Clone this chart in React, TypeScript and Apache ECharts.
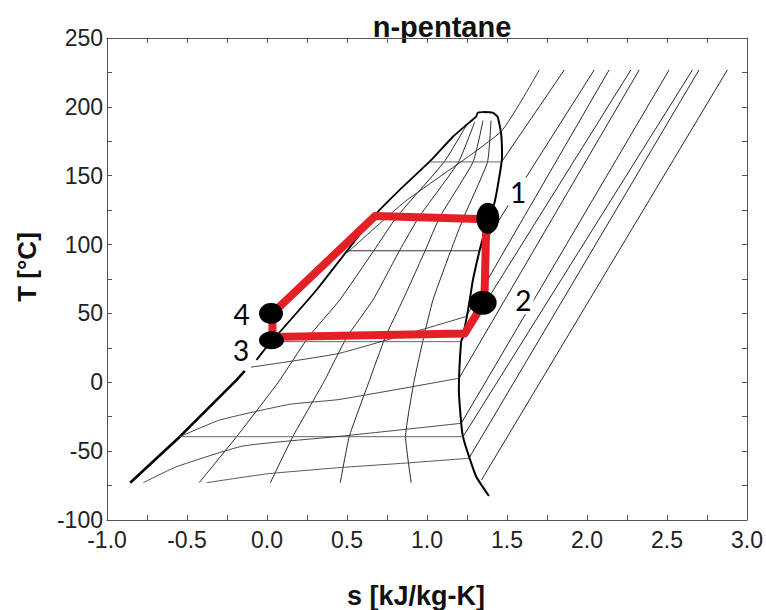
import React, { useEffect, useRef } from "react";
import * as echarts from "echarts";

// Axis ranges (entropy s in kJ/kg-K, temperature T in °C)
const S_MIN = -1;
const S_MAX = 3;
const S_STEP = 0.5;
const T_MIN = -100;
const T_MAX = 250;
const T_STEP = 50;

// Saturated liquid line (lower part drawn heavier, short break near state 3)
const liquidLower: number[][] = [
  [-0.855, -72.9], [-0.545, -39.5], [-0.191, 1.6], [-0.139, 8.2],
];
const liquidUpper: number[][] = [
  [-0.066, 16.2], [0.02, 29], [0.08, 36.5], [0.309, 67], [0.684, 122.7],
  [0.828, 139.6], [1.016, 160.2], [1.162, 178.3], [1.245, 186.8],
  [1.307, 192.9], [1.317, 195.8], [1.348, 196.2],
];
// Saturated vapour line
const vapour: number[][] = [
  [1.348, 196.2], [1.41, 195.8], [1.441, 192.9], [1.463, 180.8], [1.469, 163.8],
  [1.452, 149.3], [1.421, 130], [1.38, 119.1], [1.35, 105], [1.328, 95.5],
  [1.287, 74.3], [1.267, 59.7], [1.245, 45.2], [1.224, 33], [1.213, 29.5],
  [1.199, -5.6], [1.214, -29.8], [1.225, -39.5], [1.256, -51.6],
  [1.308, -68.6], [1.387, -82.6],
];

// Constant-quality lines inside the dome (x = 0.2, 0.4, 0.6, 0.8)
const quality02: number[][] = [
  [-0.424, -72.9], [-0.19, -39.5], [0.07, 0], [0.26, 33], [0.454, 59.7],
  [0.67, 96], [0.81, 120], [1.107, 160], [1.246, 186.5],
];
const quality04: number[][] = [
  [0.021, -72.9], [0.161, -39.5], [0.354, 0], [0.5, 33], [0.662, 59.7],
  [0.83, 96], [0.95, 120], [1.197, 160], [1.298, 189],
];
const quality06: number[][] = [
  [0.458, -72.9], [0.514, -39.5], [0.636, 0], [0.74, 33], [0.849, 59.7],
  [0.99, 96], [1.08, 120], [1.288, 160], [1.35, 190],
];
const quality08: number[][] = [
  [0.901, -72.9], [0.866, -39.5], [0.918, 0], [0.98, 33], [1.037, 59.7],
  [1.15, 96], [1.23, 120], [1.378, 160], [1.4, 190],
];

// Isobars across the dome (horizontal)
const isobar160: number[][] = [[1.016, 160], [1.466, 160]];
const isobar95: number[][] = [[0.51, 95.5], [1.328, 95.5]];
const isobar30: number[][] = [[0.03, 29.5], [1.213, 29.5]];
const isobarM40: number[][] = [[-0.544, -39.5], [1.225, -39.5]];

// Isochores across the dome
const isochoreA: number[][] = [
  [-0.773, -72.9], [-0.565, -61.3], [-0.15, -46.3], [0.45, -39.3], [1.214, -29.8],
];
const isochoreB: number[][] = [
  [-0.377, -72.9], [0.0, -66.5], [0.45, -62], [0.85, -58.8], [1.262, -55.2],
];
const isochoreC: number[][] = [
  [-0.545, -39.5], [-0.295, -27.4], [0.142, -16], [0.45, -12.5], [1.2, 2.9],
];
const isochoreD: number[][] = [
  [-0.1, 11], [0.45, 21], [1.24, 47.6],
];
const isochoreE: number[][] = [
  [0.5, 94], [0.86, 131], [1.462, 182], [1.702, 226.8],
];

// Superheated-region lines: start on the vapour line, end at the top
const superheated: number[][][] = [
  [[1.466, 160], [1.858, 226.8]],
  [[1.328, 95.5], [2.045, 226.8]],
  [[1.245, 47.6], [2.138, 226.8]],
  [[1.213, 29.5], [2.274, 226.8]],
  [[1.2, 2.9], [2.326, 226.8]],
  [[1.214, -29.8], [2.513, 226.8]],
  [[1.225, -39.5], [2.659, 226.8]],
  [[1.262, -55.2], [2.7, 226.8]],
  [[1.34, -71], [2.877, 226.8]],
];

// Organic Rankine cycle path
const cycle: number[][] = [
  [0.034, 32.8], [0.034, 50], [0.675, 120.7], [1.375, 118.3], [1.369, 108],
  [1.359, 60], [1.327, 52.5], [1.236, 35.5], [0.034, 32.8],
];

// Cycle states
const stateNames = ["1", "2", "3", "4"];
const stateS = [1.38, 1.348, 0.028, 0.025];
const stateT = [119.1, 57.7, 30.5, 50];
const stateLabelS = [1.569, 1.603, -0.162, -0.159];
const stateLabelT = [138.4, 59.7, 23.4, 49.4];

// Marker sizes [width, height] in px
const dotSizes = [[23, 31], [28, 24], [25, 18], [24, 21]];

const FONT = '"Liberation Sans", Arial, Helvetica, sans-serif';
const AXIS_COLOR = "#555";

function curve(data: number[][], color: string, width: number, smooth: number | boolean = 0.15, z = 2) {
  return {
    type: "line",
    data,
    symbol: "none",
    showSymbol: false,
    silent: true,
    smooth,
    z,
    lineStyle: { color, width },
  };
}

function axisFrame(position: string, isX: boolean, showLabel: boolean) {
  const base: any = {
    type: "value",
    position,
    min: isX ? S_MIN : T_MIN,
    max: isX ? S_MAX : T_MAX,
    interval: isX ? S_STEP : T_STEP,
    axisLine: { show: true, onZero: false, lineStyle: { color: AXIS_COLOR, width: 1 } },
    axisTick: { show: true, inside: true, length: 5, lineStyle: { color: AXIS_COLOR } },
    minorTick: { show: true, splitNumber: 2, length: 5, lineStyle: { color: AXIS_COLOR } },
    splitLine: { show: false },
    minorSplitLine: { show: false },
    axisLabel: {
      show: showLabel,
      fontFamily: FONT,
      fontSize: 23,
      color: "#222",
      margin: isX ? 8 : 4,
      formatter: isX ? (v: number) => v.toFixed(1) : (v: number) => String(v),
    },
  };
  return base;
}

export default function App() {
  const ref = useRef<HTMLDivElement>(null);

  useEffect(() => {
    if (!ref.current) return;
    const chart = echarts.init(ref.current, undefined, { renderer: "svg" });

    const series: any[] = [
      curve(liquidLower, "#000", 2.6, false),
      curve(liquidUpper, "#000", 1.8, 0.15),
      curve(vapour, "#000", 2, 0.15),
      curve(quality02, "#111", 0.9),
      curve(quality04, "#111", 0.9),
      curve(quality06, "#111", 0.9),
      curve(quality08, "#111", 0.9),
      curve(isobar160, "#666", 1, false),
      curve(isobar95, "#333", 1, false),
      curve(isobar30, "#666", 1, false),
      curve(isobarM40, "#666", 1, false),
      curve(isochoreA, "#333", 0.9),
      curve(isochoreB, "#444", 0.9),
      curve(isochoreC, "#333", 0.9),
      curve(isochoreD, "#333", 0.9),
      curve(isochoreE, "#222", 0.9),
      ...superheated.map((seg) => curve(seg, "#111", 0.9, false)),
      {
        type: "line",
        data: cycle,
        symbol: "none",
        silent: true,
        z: 5,
        lineStyle: { color: "#e41f26", width: 8, cap: "round", join: "round" },
      },
      {
        type: "scatter",
        data: stateS.map((s, i) => [s, stateT[i]]),
        symbol: "circle",
        symbolSize: (_v: any, p: any) => dotSizes[p.dataIndex],
        itemStyle: { color: "#000", opacity: 1 },
        silent: true,
        z: 6,
      },
      {
        type: "scatter",
        data: stateNames.map((n, i) => ({ name: n, value: [stateLabelS[i], stateLabelT[i]] })),
        symbolSize: 1,
        itemStyle: { color: "rgba(0,0,0,0)", opacity: 1 },
        silent: true,
        z: 7,
        label: {
          show: true,
          position: "inside",
          formatter: "{b}",
          fontFamily: "Lato, 'Open Sans', sans-serif",
          fontSize: 28,
          color: "#000",
          opacity: 1,
          backgroundColor: "#fff",
          padding: [0, 2],
        },
      },
    ];

    chart.setOption({
      animation: false,
      backgroundColor: "#fff",
      grid: { left: 107, right: 18, top: 38, bottom: 90, containLabel: false },
      xAxis: [axisFrame("bottom", true, true), axisFrame("top", true, false)],
      yAxis: [axisFrame("left", false, true), axisFrame("right", false, false)],
      series,
      graphic: [
        {
          type: "text",
          x: 442,
          y: 27,
          style: {
            text: "n-pentane",
            font: `bold 29px ${FONT}`,
            fill: "#111",
            align: "center",
            verticalAlign: "middle",
            textAlign: "center",
            textVerticalAlign: "middle",
          },
        },
        {
          type: "text",
          x: 27,
          y: 267,
          rotation: Math.PI / 2,
          style: {
            text: "T [°C]",
            font: `bold 26px ${FONT}`,
            fill: "#111",
            align: "center",
            verticalAlign: "middle",
            textAlign: "center",
            textVerticalAlign: "middle",
          },
        },
        {
          type: "text",
          x: 416,
          y: 596,
          style: {
            text: "s [kJ/kg-K]",
            font: `bold 27px ${FONT}`,
            fill: "#111",
            align: "center",
            verticalAlign: "middle",
            textAlign: "center",
            textVerticalAlign: "middle",
          },
        },
      ],
    });

    return () => chart.dispose();
  }, []);

  return (
    <div
      ref={ref}
      style={{ position: "fixed", left: 0, top: 0, width: 766, height: 610, background: "#fff" }}
    />
  );
}
